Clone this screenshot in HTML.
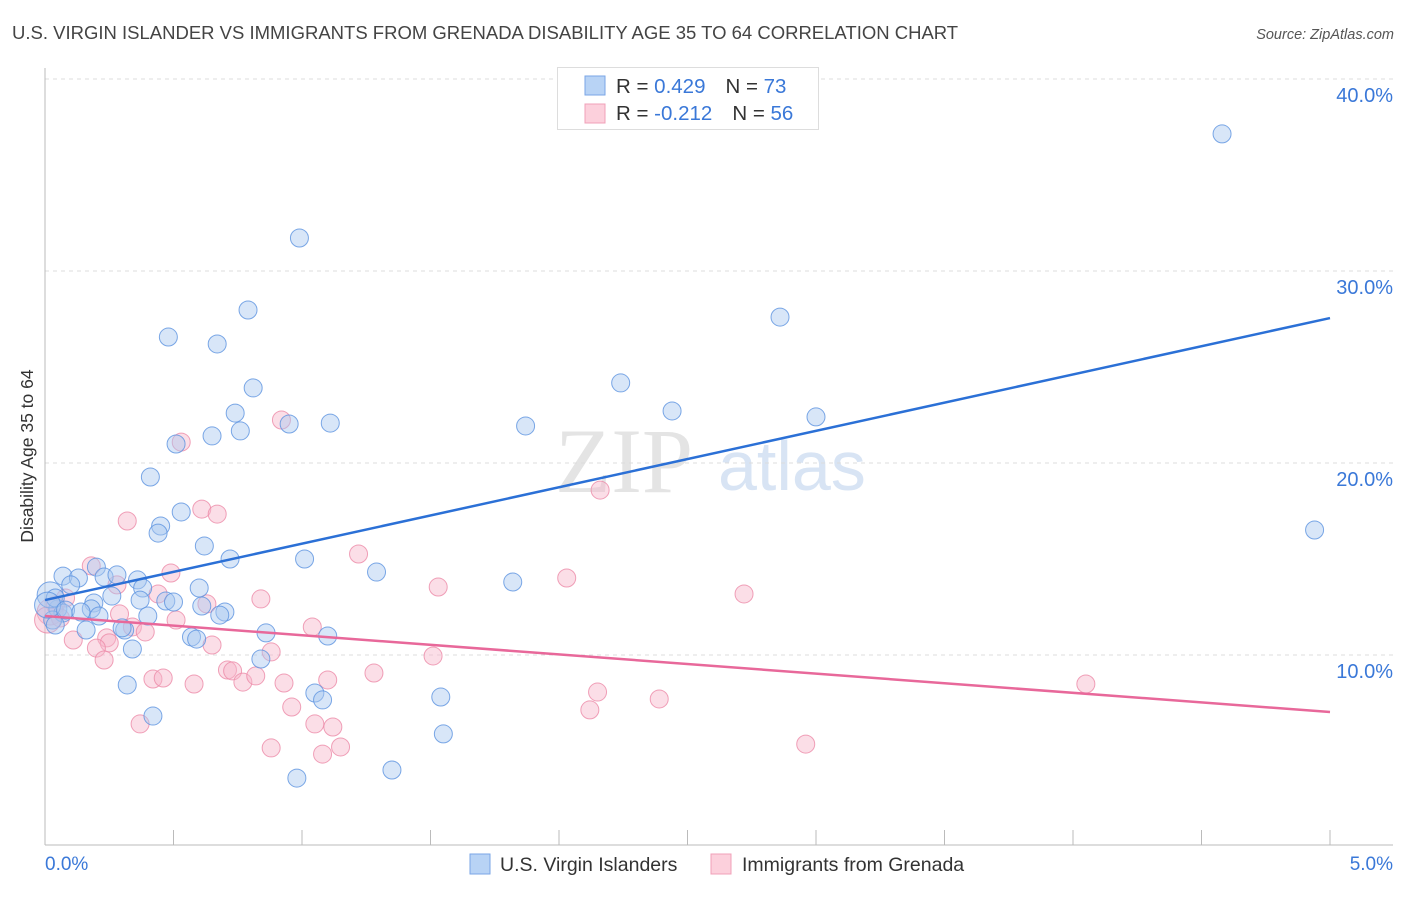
<!DOCTYPE html>
<html><head><meta charset="utf-8"><style>
body{margin:0;background:#fff;font-family:"Liberation Sans",sans-serif}
</style></head><body>
<svg id="chart" width="1406" height="892" xmlns="http://www.w3.org/2000/svg" font-family="Liberation Sans, sans-serif">
<text x="12" y="39" font-size="18.5" fill="#444">U.S. VIRGIN ISLANDER VS IMMIGRANTS FROM GRENADA DISABILITY AGE 35 TO 64 CORRELATION CHART</text>
<text x="1394" y="39" font-size="14.5" fill="#555" font-style="italic" text-anchor="end">Source: ZipAtlas.com</text>
<text transform="translate(33,456) rotate(-90)" font-size="17.5" fill="#333" text-anchor="middle">Disability Age 35 to 64</text>
<text x="555" y="492" font-size="92" fill="#e4e4e4" font-family="Liberation Serif, serif">ZIP</text>
<text x="718" y="490" font-size="70" fill="#d8e4f4">atlas</text>
<g id="grid"></g><g id="axes"></g><g id="pts"></g><g id="trend"></g>
<g>
<rect x="557.5" y="67.5" width="261" height="62" fill="#fff" stroke="#ddd"/>
<rect x="585" y="76" width="20" height="19" fill="#b8d3f5" stroke="#7aa6e6"/>
<rect x="585" y="104" width="20" height="19" fill="#fcd0dc" stroke="#f0a0b8"/>
<text x="616" y="93" font-size="20.5" fill="#333">R = <tspan fill="#3a78d8">0.429</tspan><tspan dx="20">N = </tspan><tspan fill="#3a78d8">73</tspan></text>
<text x="616" y="120" font-size="20.5" fill="#333">R = <tspan fill="#3a78d8">-0.212</tspan><tspan dx="20">N = </tspan><tspan fill="#3a78d8">56</tspan></text>
</g>
<g>
<rect x="470" y="854" width="20" height="20" fill="#b8d3f5" stroke="#7aa6e6"/>
<text x="500" y="871" font-size="19.5" fill="#333">U.S. Virgin Islanders</text>
<rect x="711" y="854" width="20" height="20" fill="#fcd0dc" stroke="#f0a0b8"/>
<text x="742" y="871" font-size="19.5" fill="#333">Immigrants from Grenada</text>
</g>
</svg>
<script>
const yTicks=[10,20,30,40];
const yTickLabels=["10.0%","20.0%","30.0%","40.0%"];
const xTicks=[0,0.5,1,1.5,2,2.5,3,3.5,4,4.5,5];
const blueX=[4.58,0.99,0.79,0.48,0.67,2.86,0.81,2.24,2.44,3.00,0.74,0.95,1.11,0.76,0.65,1.87,0.51,0.41,0.53,0.45,0.44,0.62,0.72,1.01,1.29,1.82,4.94,0.20,0.07,0.13,0.23,0.28,0.36,0.10,0.38,0.60,0.26,0.37,0.47,0.50,0.61,0.70,0.68,0.19,0.18,0.05,0.07,0.21,0.40,0.03,0.04,0.16,0.31,0.30,0.57,0.59,0.86,1.10,0.34,0.84,0.32,1.05,1.08,1.54,0.42,1.55,0.98,1.35,0.02,0.04,0.01,0.08,0.14];
const blueY=[37.14,31.72,27.97,26.56,26.20,27.60,23.91,24.17,22.71,22.40,22.60,22.03,22.08,21.67,21.41,21.93,20.99,19.27,17.45,16.72,16.35,15.68,15.00,15.00,14.32,13.80,16.51,14.58,14.11,14.01,14.06,14.17,13.91,13.65,13.49,13.49,13.07,12.86,12.81,12.76,12.55,12.24,12.08,12.71,12.40,12.40,12.19,12.03,12.03,11.82,11.56,11.30,11.30,11.41,10.94,10.83,11.15,10.99,10.31,9.79,8.44,8.02,7.66,7.81,6.82,5.89,3.59,4.01,13.13,12.97,12.60,12.34,12.24];
const pinkX=[0.92,0.53,2.16,0.32,0.61,0.67,1.22,2.03,1.53,2.72,0.18,0.49,0.28,0.44,0.84,0.63,0.08,0.04,0.02,0.06,0.29,0.51,1.04,0.34,0.39,0.24,0.25,0.11,0.20,0.65,0.88,1.51,0.23,0.71,0.73,1.28,0.42,0.46,0.58,0.77,0.82,0.93,1.10,2.15,2.12,2.39,0.96,4.05,0.37,1.05,1.12,0.88,1.08,1.15,2.96,0.01];
const pinkY=[22.24,21.09,18.59,16.98,17.60,17.34,15.26,14.01,13.54,13.18,14.64,14.27,13.65,13.18,12.92,12.66,12.97,12.60,12.24,11.93,12.14,11.82,11.46,11.46,11.20,10.89,10.63,10.78,10.36,10.52,10.16,9.95,9.74,9.22,9.17,9.06,8.75,8.80,8.49,8.59,8.91,8.54,8.70,8.07,7.14,7.71,7.29,8.49,6.41,6.41,6.25,5.16,4.84,5.21,5.36,11.82];
const blueTrend=[12.86,27.55];
const pinkTrend=[12.03,7.03];
const NS="http://www.w3.org/2000/svg";
const X=v=>45+v*257, Y=v=>847-v*19.2;
function mk(t,a,p){const e=document.createElementNS(NS,t);for(const k in a)e.setAttribute(k,a[k]);p.appendChild(e);return e;}
const grid=document.getElementById('grid'),axes=document.getElementById('axes'),pts=document.getElementById('pts'),tr=document.getElementById('trend');
yTicks.forEach((t,i)=>{
 const l=mk('line',{x1:45,x2:1393,y1:Y(t),y2:Y(t),stroke:'#ddd','stroke-dasharray':'4,4'},grid);
 
 
 const tx=mk('text',{x:1393,y:Y(t)+23,'font-size':20,fill:'#3a78d8','text-anchor':'end'},axes);
 tx.textContent=yTickLabels[i];
 
 
});
const ax=mk('line',{x1:45,x2:1393,y1:845,y2:845,stroke:'#bbb'},axes);


const ay=mk('line',{x1:45,x2:45,y1:68,y2:845,stroke:'#bbb'},axes);


xTicks.forEach(t=>{
 const l=mk('line',{x1:X(t),x2:X(t),y1:830,y2:845,stroke:'#bbb'},axes);
 
 
});
[["0.0%",45,'start'],["5.0%",1393,'end']].forEach(d=>{
 const tx=mk('text',{x:d[1],y:870,'font-size':19,fill:'#3a78d8','text-anchor':d[2]},axes);
 tx.textContent=d[0];
 
 
});
function dots(xs,ys,fill,stroke,name){
 xs.forEach((x,i)=>{
  const big=x<0.025?13:9;
  const c=mk('circle',{cx:X(x),cy:Y(ys[i]),r:big,fill:fill,'fill-opacity':0.45,stroke:stroke,'stroke-opacity':0.8,'stroke-width':1},pts);
  
  
 });
}
dots(pinkX,pinkY,'#f7b6c9','#ec8aa8','grenada-point');
dots(blueX,blueY,'#a9c8f0','#5b92e0','virgin-islander-point');
const bl=mk('line',{x1:X(0),y1:Y(blueTrend[0]),x2:X(5),y2:Y(blueTrend[1]),stroke:'#2b70d6','stroke-width':2.5},tr);


const pl=mk('line',{x1:X(0),y1:Y(pinkTrend[0]),x2:X(5),y2:Y(pinkTrend[1]),stroke:'#e8689a','stroke-width':2.5},tr);


</script>
</body></html>
